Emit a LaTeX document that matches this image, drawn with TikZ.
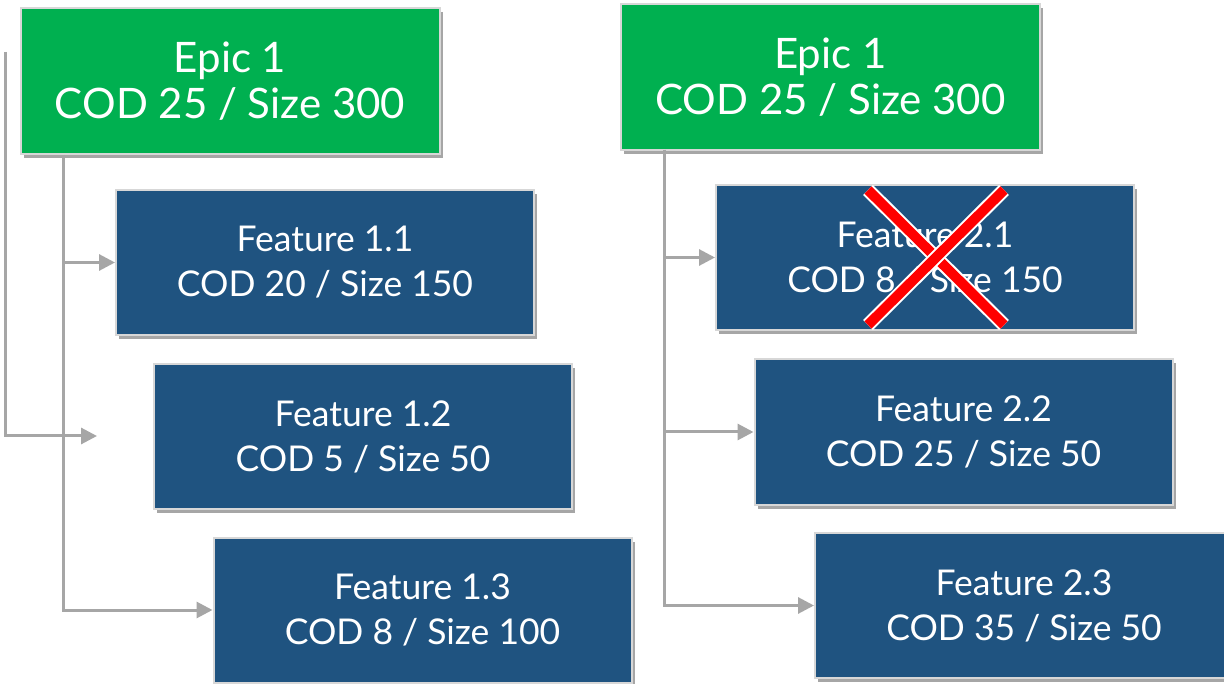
\documentclass[tikz,border=0pt]{standalone}
\usepackage{fontspec}
\setmainfont{Lato}
\usetikzlibrary{arrows.meta,shadows,calc}
\definecolor{epicgreen}{RGB}{0,176,80}
\definecolor{featblue}{RGB}{31,83,128}
\definecolor{linegray}{RGB}{166,166,166}
\definecolor{boxborder}{RGB}{215,215,215}
\begin{document}
\begin{tikzpicture}[x=1pt,y=-1pt,
  boxbase/.style={draw=boxborder,line width=2pt,inner sep=0pt,align=center,text=white,
    drop shadow={shadow xshift=3pt,shadow yshift=-4pt,opacity=0.35,fill=black}},
  epicbox/.style={boxbase,fill=epicgreen,minimum width=419pt,minimum height=146pt,
    font=\fontsize{42}{44}\selectfont},
  featbox/.style={boxbase,fill=featblue,minimum width=418pt,minimum height=145pt,
    font=\fontsize{35.5}{45}\selectfont},
  conn/.style={draw=linegray,line width=3pt},
  arr/.style={conn,-{Triangle[length=16pt,width=16pt]}},
  crossline/.style={line width=10pt,draw=red,
    preaction={draw=white,line width=14pt}}]
\useasboundingbox (0,0) rectangle (1224,684);
\fill[white] (0,0) rectangle (1224,684);
% coordinates for connectors
\coordinate (l1) at (63,155);
\coordinate (a0) at (5,52);
\coordinate (a1) at (97,436);
\coordinate (r1) at (664,150);
% connectors (behind boxes)
\draw[conn] (a0) |- ($(a1)+(-14,0)$);
\draw[arr] (a0 |- a1) -- (a1);
% nodes
\node[epicbox] (epicL) at (230,81.5) {\raisebox{2pt}{Epic 1}\\COD 25 / Size 300};
\node[featbox] (f11) at (325,262.5) {Feature 1.1\\COD 20 / Size 150};
\node[featbox] (f12) at (363,436.5) {Feature 1.2\\COD 5 / Size 50};
\node[featbox] (f13) at (422.5,610) {Feature 1.3\\COD 8 / Size 100};
\node[epicbox] (epicR) at (830.5,77) {\raisebox{2pt}{Epic 1}\\COD 25 / Size 300};
\node[featbox] (f21) at (925,257.5) {Feature 2.1\\COD 8 / Size 150};
\node[featbox] (f22) at (963.5,432) {Feature 2.2\\COD 25 / Size 50};
\node[featbox] (f23) at (1024,605.5) {Feature 2.3\\COD 35 / Size 50};
% left tree
\draw[arr] (l1) |- (f11.west);
\draw[arr] (l1) |- (f13.west);
% right tree
\draw[arr] (r1) |- (f21.west);
\draw[arr] (r1) |- (f22.west);
\draw[arr] (r1) |- (f23.west);
% red cross
\coordinate (x1) at (868,190);
\coordinate (x2) at (1004,325);
\coordinate (x3) at (1004,190);
\coordinate (x4) at (868,325);
\draw[crossline] (x1) -- (x2);
\draw[crossline] (x3) -- (x4);
\end{tikzpicture}
\end{document}
